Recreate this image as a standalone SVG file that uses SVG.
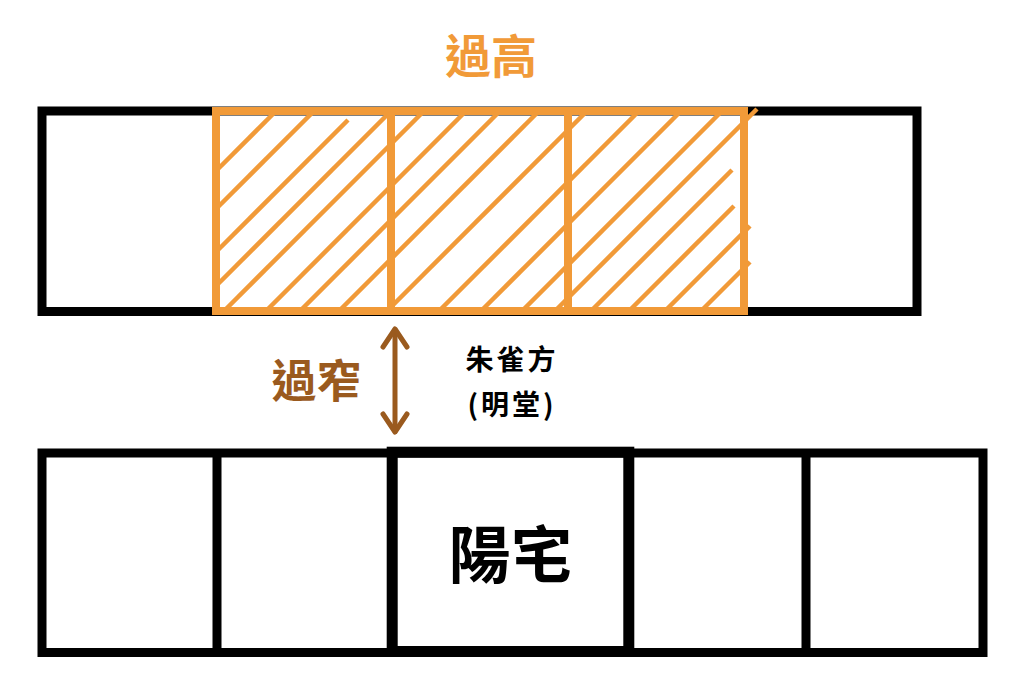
<svg xmlns="http://www.w3.org/2000/svg" width="1024" height="692" viewBox="0 0 1024 692">
<style>
.blk{fill:none;stroke:#000;stroke-width:9}
.org{fill:none;stroke:#F19A38;stroke-width:8}
.hatch line{stroke:#F19A38;stroke-width:4.5}
.t{font-family:"Noto Sans CJK TC","Noto Sans CJK SC",sans-serif;font-weight:700;text-anchor:middle}
</style>
<rect width="1024" height="692" fill="#fff"/>
<g id="top-row">
<rect class="blk" x="42" y="111" width="875" height="200.5"/>
</g>
<g id="hatch" class="hatch">
<line x1="218" y1="169" x2="274" y2="113"/>
<line x1="218" y1="207" x2="312" y2="113"/>
<line x1="218" y1="250" x2="348" y2="120"/>
<line x1="218" y1="284" x2="389" y2="113"/>
<line x1="226" y1="309" x2="422" y2="113"/>
<line x1="268" y1="309" x2="464" y2="113"/>
<line x1="302" y1="309" x2="498" y2="113"/>
<line x1="341" y1="309" x2="537" y2="113"/>
<line x1="389" y1="309" x2="585" y2="113"/>
<line x1="441" y1="309" x2="637" y2="113"/>
<line x1="483" y1="309" x2="679" y2="113"/>
<line x1="524" y1="309" x2="720" y2="113"/>
<line x1="557" y1="309" x2="757" y2="109"/>
<line x1="593" y1="309" x2="732" y2="170"/>
<line x1="631" y1="309" x2="734" y2="206"/>
<line x1="667" y1="309" x2="750" y2="226"/>
<line x1="703" y1="309" x2="750" y2="262"/>
</g>
<g id="orange-cells">
<rect class="org" x="216" y="111" width="175" height="200"/>
<rect class="org" x="391" y="111" width="177" height="200"/>
<rect class="org" x="568" y="111" width="176" height="200"/>
</g>
<g id="bottom-row">
<rect class="blk" x="42" y="453" width="941" height="199.5"/>
<line class="blk" x1="217" y1="453" x2="217" y2="652.5"/>
<line class="blk" x1="806" y1="453" x2="806" y2="652.5"/>
<rect x="392.2" y="452.2" width="236.6" height="199.3" fill="none" stroke="#000" stroke-width="11"/>
</g>
<g id="connectors">
<g fill="none" stroke="#9A5A1E" stroke-width="5" stroke-linecap="round" stroke-linejoin="round">
<line x1="395" y1="330" x2="395" y2="431"/>
<polyline points="383,347 395,329 407,347"/>
<polyline points="383,414 395,432 407,414"/>
</g>
</g>
<g id="labels">
<text class="t" x="491" y="73" font-size="46" fill="#F19A38">過高</text>
<text class="t" x="316.5" y="398" font-size="45" fill="#9A5A1E">過窄</text>
<text class="t" x="512" y="370" font-size="28" letter-spacing="3" fill="#000">朱雀方</text>
<text class="t" x="512" y="415" font-size="28" letter-spacing="3" fill="#000">(明堂)</text>
<text class="t" x="510.5" y="578" font-size="62" fill="#000">陽宅</text>
</g>
</svg>
